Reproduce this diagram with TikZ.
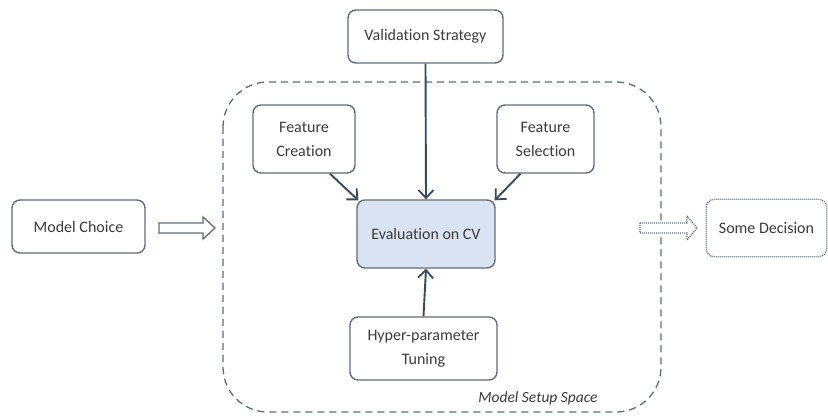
\documentclass[tikz,border=0pt]{standalone}
\usepackage{fontspec}
\setmainfont{Carlito}[Ligatures=NoCommon]
\usetikzlibrary{arrows.meta,calc}
\definecolor{boxline}{RGB}{98,110,118}
\definecolor{arrowc}{RGB}{55,74,96}
\definecolor{evalfill}{RGB}{218,227,242}
\definecolor{txt}{RGB}{60,60,60}
\tikzset{
  stepbox/.style={draw=boxline, line width=1.4pt, rounded corners=8pt, fill=white,
    align=center, text=txt, font=\fontsize{16}{24}\selectfont, inner sep=0pt},
  flow/.style={draw=arrowc, line width=1.9pt, -{Straight Barb[length=8pt,width=15pt,line width=1.8pt]}},
  blockarrow/.style={draw=boxline, line width=1.3pt, fill=white, line join=miter}
}
\begin{document}
\begin{tikzpicture}[x=1pt,y=-1pt]
\useasboundingbox (0,0) rectangle (828,416);
\fill[white] (0,0) rectangle (828,416);

% dashed container for the setup space
\draw[draw=boxline, line width=1.3pt, dash pattern=on 7pt off 5pt, rounded corners=45pt]
  (223,82) rectangle (661,412);
\node[text=txt, font=\itshape\fontsize{15.5}{18}\selectfont] (space) at (538,398) {Model Setup Space};

% boxes
\node[stepbox, minimum width=155pt, minimum height=53pt] (vs) at (425.5,36.5) {Validation Strategy};
\node[stepbox, minimum width=102pt, minimum height=68pt] (fc) at (304,139) {Feature\\Creation};
\node[stepbox, minimum width=97pt, minimum height=68pt] (fs) at (545.5,139) {Feature\\Selection};
\node[stepbox, fill=evalfill, minimum width=138pt, minimum height=68pt] (ev) at (426,234) {Evaluation on CV};
\node[stepbox, minimum width=147pt, minimum height=63pt] (hp) at (423.5,348.5) {Hyper-parameter\\Tuning};
\node[stepbox, minimum width=133pt, minimum height=53pt] (mc) at (78.5,226.5) {Model Choice};
\node[stepbox, draw=none, minimum width=119pt, minimum height=56pt] (sd) at (766.5,228) {Some Decision};
\draw[boxline, line width=1.3pt, dash pattern=on 1pt off 1pt, rounded corners=8pt]
  (sd.north west) rectangle (sd.south east);

% connectors into the evaluation box
\draw[flow] (vs.south) -- (ev.north);
\draw[flow] ([xshift=26pt]fc.south) -- ([xshift=2pt,yshift=-1pt]ev.north west);
\draw[flow] ([xshift=-25pt]fs.south) -- ([xshift=-1pt,yshift=-1pt]ev.north east);
\draw[flow] (hp.north) -- (ev.south);

% hollow block arrows
\coordinate (a1) at (159,228);
\draw[blockarrow] (a1) ++(0,-5) -- ++(44,0) -- ++(0,-6) -- (215,228) -- (203,239) -- ++(0,-6) -- ++(-44,0) -- cycle;
\coordinate (a2) at (640,228);
\draw[blockarrow, dash pattern=on 1pt off 1pt] (a2) ++(0,-5) -- ++(47,0) -- ++(0,-7) -- (697,228) -- (687,240) -- ++(0,-7) -- ++(-47,0) -- cycle;
\end{tikzpicture}
\end{document}
